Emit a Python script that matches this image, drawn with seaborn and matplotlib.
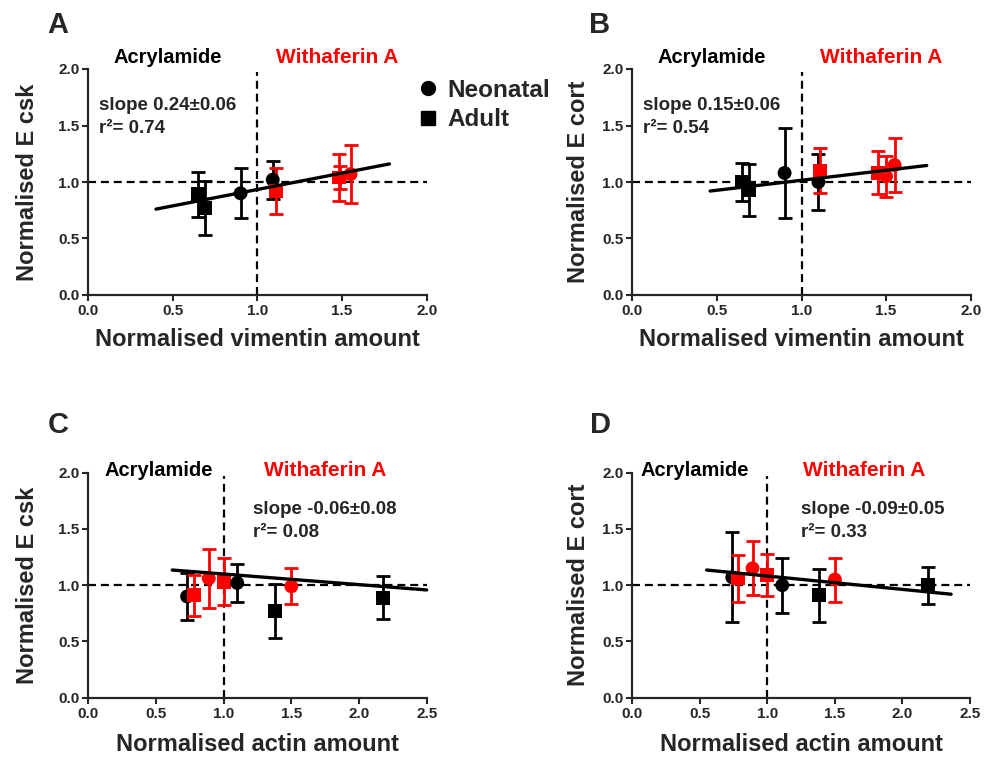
import numpy as np
import pandas as pd
import matplotlib
matplotlib.use("Agg")
import matplotlib.pyplot as plt
import seaborn as sns
from matplotlib.lines import Line2D

# ---------------- data ----------------
# Panel A: vimentin vs E csk
a_x = [0.65, 0.69, 0.90, 1.09, 1.11, 1.48, 1.49, 1.55]
a_y = [0.89, 0.77, 0.90, 1.02, 0.92, 1.04, 1.04, 1.07]
a_err = [0.20, 0.24, 0.22, 0.17, 0.20, 0.21, 0.10, 0.26]
a_age = ["Adult", "Adult", "Neonatal", "Neonatal", "Adult", "Adult", "Neonatal", "Neonatal"]
a_treat = ["Acrylamide"] * 4 + ["Withaferin A"] * 4
a_fit_x = [0.40, 1.78]
a_fit_y = [0.76, 1.16]

# Panel B: vimentin vs E cort
b_x = [0.65, 0.69, 0.90, 1.10, 1.11, 1.45, 1.50, 1.55]
b_y = [1.00, 0.93, 1.08, 1.00, 1.10, 1.08, 1.05, 1.15]
b_err = [0.17, 0.23, 0.40, 0.25, 0.20, 0.19, 0.18, 0.24]
b_age = ["Adult", "Adult", "Neonatal", "Neonatal", "Adult", "Adult", "Neonatal", "Neonatal"]
b_treat = ["Acrylamide"] * 4 + ["Withaferin A"] * 4
b_fit_x = [0.46, 1.74]
b_fit_y = [0.92, 1.146]

# Panel C: actin vs E csk
c_x = [0.73, 0.78, 0.89, 1.00, 1.10, 1.38, 1.50, 2.18]
c_y = [0.90, 0.91, 1.06, 1.03, 1.02, 0.77, 0.99, 0.89]
c_err = [0.21, 0.18, 0.26, 0.21, 0.17, 0.24, 0.16, 0.19]
c_age = ["Neonatal", "Adult", "Neonatal", "Adult", "Neonatal", "Adult", "Neonatal", "Adult"]
c_treat = ["Acrylamide", "Withaferin A", "Withaferin A", "Withaferin A",
           "Acrylamide", "Acrylamide", "Withaferin A", "Acrylamide"]
c_fit_x = [0.62, 2.50]
c_fit_y = [1.135, 0.958]

# Panel D: actin vs E cort
d_x = [0.74, 0.78, 0.89, 1.00, 1.11, 1.385, 1.50, 2.19]
d_y = [1.07, 1.06, 1.15, 1.09, 1.00, 0.91, 1.05, 1.00]
d_err = [0.40, 0.21, 0.24, 0.19, 0.245, 0.235, 0.195, 0.166]
d_age = c_age
d_treat = c_treat
d_fit_x = [0.55, 2.36]
d_fit_y = [1.135, 0.92]

treat_labels = ["Acrylamide", "Withaferin A"]
legend_labels = ["Neonatal", "Adult"]
x_ticks_vim = [0.0, 0.5, 1.0, 1.5, 2.0]
x_ticks_act = [0.0, 0.5, 1.0, 1.5, 2.0, 2.5]
y_ticks = [0.0, 0.5, 1.0, 1.5, 2.0]

# ---------------- style ----------------
sns.set_style("ticks")
plt.rcParams["font.family"] = ["Liberation Sans", "DejaVu Sans"]
plt.rcParams["font.weight"] = "bold"
plt.rcParams["axes.labelweight"] = "bold"

palette = {"Acrylamide": "black", "Withaferin A": "#ff0000"}
markers = {"Neonatal": "o", "Adult": "s"}
dash = (0, (3.6, 2.2))

fig = plt.figure(figsize=(9.84, 7.74), dpi=100)
W, H = 984, 774


def add_ax(l, r, t, b):
    return fig.add_axes([l / W, 1 - b / H, (r - l) / W, (b - t) / H])


axA = add_ax(88.3, 426.7, 69, 295)
axB = add_ax(632.3, 970.7, 69, 295)
axC = add_ax(88.3, 426.7, 472.7, 697.7)
axD = add_ax(632.3, 970.0, 472.7, 697.7)

panels = [
    (axA, a_x, a_y, a_err, a_age, a_treat, a_fit_x, a_fit_y, x_ticks_vim,
     "Normalised E csk", "Normalised vimentin amount", "slope 0.24\u00b10.06", "r\u00b2= 0.74",
     (0.064, 1.68), (0.47, 2.10), (1.47, 2.10), -0.181, -0.199, "A", (58, 25)),
    (axB, b_x, b_y, b_err, b_age, b_treat, b_fit_x, b_fit_y, x_ticks_vim,
     "Normalised E cort", "Normalised vimentin amount", "slope 0.15\u00b10.06", "r\u00b2= 0.54",
     (0.063, 1.68), (0.47, 2.10), (1.47, 2.10), -0.160, -0.199, "B", (600, 25)),
    (axC, c_x, c_y, c_err, c_age, c_treat, c_fit_x, c_fit_y, x_ticks_act,
     "Normalised E csk", "Normalised actin amount", "slope -0.06\u00b10.08", "r\u00b2= 0.08",
     (1.215, 1.67), (0.52, 2.02), (1.75, 2.02), -0.181, -0.21, "C", (58, 425)),
    (axD, d_x, d_y, d_err, d_age, d_treat, d_fit_x, d_fit_y, x_ticks_act,
     "Normalised E cort", "Normalised actin amount", "slope -0.09\u00b10.05", "r\u00b2= 0.33",
     (1.25, 1.67), (0.46, 2.02), (1.72, 2.02), -0.160, -0.21, "D", (600, 425)),
]

for (ax, xs, ys, errs, age, treat, fx, fy, xt, ylab, xlab, s1, s2,
     spos, apos, wpos, ylc, xlc, letter, lpos) in panels:
    df = pd.DataFrame({"x": xs, "y": ys, "err": errs, "age": age, "treat": treat})
    xmax = xt[-1]
    # reference dashed lines
    ax.axhline(1.0, color="black", lw=1.6, ls=dash, zorder=1)
    ax.vlines(1.0, 0, 1.97, color="black", lw=1.6, ls=dash, zorder=1)
    # error bars
    for t in treat_labels:
        sub = df[df["treat"] == t]
        ax.errorbar(sub["x"], sub["y"], yerr=sub["err"], fmt="none",
                    ecolor=palette[t], elinewidth=2.0, capsize=4.8, capthick=2.0,
                    zorder=2)
    # points
    sns.scatterplot(data=df, x="x", y="y", hue="treat", style="age",
                    palette=palette, markers=markers, s=100, linewidth=0,
                    legend=False, ax=ax, zorder=3, clip_on=False)
    # regression line
    sns.lineplot(x=fx, y=fy, color="black", lw=2.4, ax=ax, zorder=4)
    for ln in ax.lines:
        ln.set_clip_on(False)

    ax.set_xlim(0, xmax)
    ax.set_ylim(0, 2.0)
    ax.set_xticks(xt)
    ax.set_xticklabels([f"{v:.1f}" for v in xt])
    ax.set_yticks(y_ticks)
    ax.set_yticklabels([f"{v:.1f}" for v in y_ticks])
    ax.tick_params(axis="both", direction="out", length=4, width=1.5,
                   labelsize=11, pad=2.5)
    for lab in ax.get_xticklabels() + ax.get_yticklabels():
        lab.set_fontweight("bold")
    sns.despine(ax=ax)
    for sp in ("left", "bottom"):
        ax.spines[sp].set_linewidth(1.6)

    ax.set_ylabel(ylab, fontsize=17, fontweight="bold")
    ax.set_xlabel(xlab, fontsize=17, fontweight="bold")
    ax.yaxis.set_label_coords(ylc, 0.5)
    ax.xaxis.set_label_coords(0.5, xlc)
    ax.yaxis.label.set_verticalalignment("center")
    ax.xaxis.label.set_verticalalignment("center")

    ax.text(apos[0], apos[1], treat_labels[0], fontsize=14.5, fontweight="bold",
            color="black", ha="center", va="center", clip_on=False)
    ax.text(wpos[0], wpos[1], treat_labels[1], fontsize=15, fontweight="bold",
            color="#ff0000", ha="center", va="center", clip_on=False)
    ax.text(spos[0], spos[1], s1, fontsize=13.5, fontweight="bold", ha="left", va="center")
    ax.text(spos[0], spos[1] - 0.205, s2, fontsize=13.5, fontweight="bold", ha="left", va="center")

    fig.text(lpos[0] / W, 1 - lpos[1] / H, letter, fontsize=21, fontweight="bold",
             ha="center", va="center")

# legend in panel A
handles = [Line2D([0], [0], marker=markers[k], color="black", ls="none", markersize=10)
           for k in legend_labels]
leg = axA.legend(handles, legend_labels, frameon=False, loc="upper left",
                 bbox_to_anchor=(416 / W, 1 - 79 / H), bbox_transform=fig.transFigure,
                 prop={"size": 17.5, "weight": "bold"}, handletextpad=0.3,
                 labelspacing=0.25, handlelength=1.0, borderaxespad=0, borderpad=0)

fig.savefig("out.png", dpi=100)
